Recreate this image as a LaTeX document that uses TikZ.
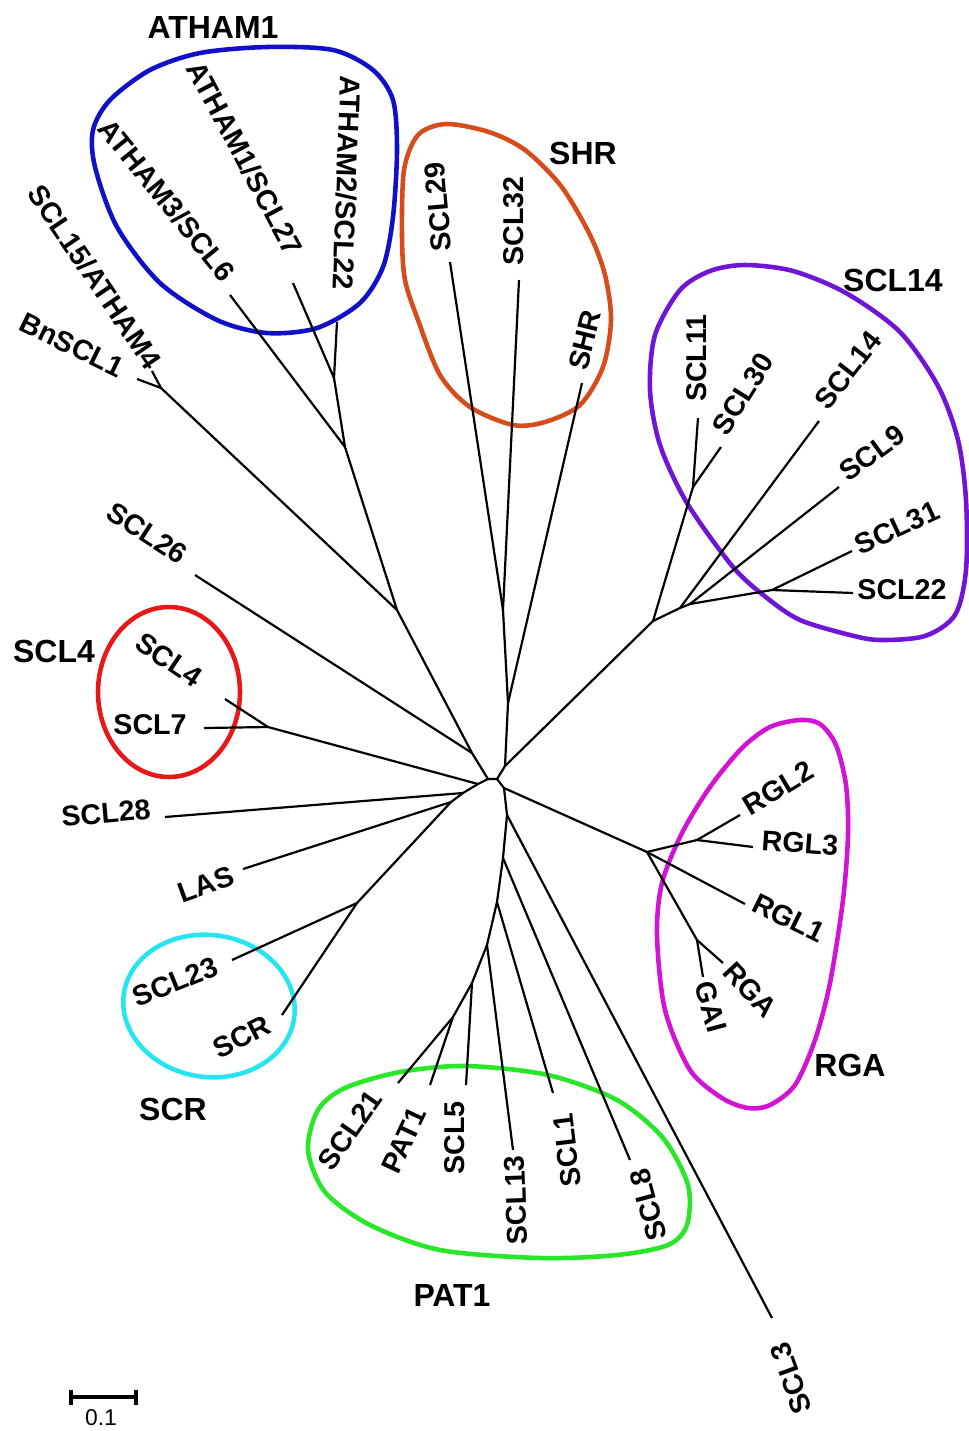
\documentclass[tikz,border=0pt]{standalone}
\usepackage{fontspec}
\setmainfont{Liberation Sans}
\definecolor{athamblue}{RGB}{16,16,200}
\definecolor{shrorange}{RGB}{214,76,26}
\definecolor{sclviolet}{RGB}{112,20,214}
\definecolor{scfourred}{RGB}{230,24,24}
\definecolor{scrcyan}{RGB}{40,228,240}
\definecolor{patgreen}{RGB}{40,230,40}
\definecolor{rgamagenta}{RGB}{210,20,210}
\begin{document}
\begin{tikzpicture}[x=0.02cm, y=-0.02cm,
    leaf/.style={font=\bfseries\fontsize{16.3}{18}\selectfont, inner sep=0pt},
    group/.style={font=\bfseries\fontsize{18.2}{20}\selectfont, inner sep=0pt},
    branch/.style={line width=1.25pt},
    blob/.style={line width=2.6pt}]
    \useasboundingbox (0,0) rectangle (969,1431);

    \draw[blob, athamblue] plot[smooth cycle] coordinates {(93,130) (110,100) (150,70) (200,53) (267,47) (333,50) (373,70) (393,100) (397,150) (393,217) (383,267) (360,303) (317,328) (267,333) (217,320) (160,283) (117,227) (95,167)};
    \draw[blob, shrorange] plot[smooth cycle] coordinates {(402,236) (404,170) (418,135) (446,124) (489,132) (525,150) (561,186) (590,235) (605,275) (611,320) (603,367) (580,405) (545,422) (513,425) (470,407) (440,375) (418,320) (405,280)};
    \draw[blob, sclviolet] plot[smooth cycle] coordinates {(745,265) (793,271) (846,293) (900,332) (938,386) (958,440) (966,500) (966,570) (955,615) (925,636) (880,640) (850,635) (800,620) (767,598) (733,567) (687,503) (660,445) (650,390) (655,335) (680,290) (710,271)};
    \draw[blob, scfourred] (169,692) ellipse [x radius=1.42cm, y radius=1.7cm];
    \draw[blob, scrcyan, rotate around={-8:(209,1006)}] (209,1006) ellipse [x radius=1.72cm, y radius=1.42cm];
    \draw[blob, patgreen] plot[smooth cycle] coordinates {(308,1150) (318,1110) (345,1088) (400,1072) (466,1066) (548,1075) (617,1100) (663,1138) (688,1185) (687,1225) (668,1245) (617,1255) (540,1258) (440,1250) (370,1225) (325,1192)};
    \draw[blob, rgamagenta] plot[smooth cycle] coordinates {(800,720) (820,724) (836,745) (846,785) (848,835) (843,900) (830,983) (815,1040) (795,1085) (770,1105) (748,1108) (722,1098) (690,1070) (665,1010) (657,935) (662,883) (682,833) (710,787) (742,748) (770,727)};

    \coordinate (rl) at (488,779);
    \coordinate (rc) at (497,779);
    \coordinate (rr) at (504,788);
    \coordinate (ra) at (505,766);
    \coordinate (at12) at (334,378);
    \coordinate (at) at (345,447);
    \coordinate (bn) at (161,388);
    \coordinate (at4) at (397,610);
    \coordinate (s26) at (472,753);
    \coordinate (s4) at (268,727);
    \coordinate (j4) at (478,784);
    \coordinate (j28) at (463,793);
    \coordinate (jlas) at (451,802);
    \coordinate (scr) at (357,903);
    \coordinate (sh1) at (503,610);
    \coordinate (sh2) at (508,703);
    \coordinate (k0) at (653,621);
    \coordinate (k1) at (693,487);
    \coordinate (k2) at (680,608);
    \coordinate (k3) at (690,604);
    \coordinate (k4) at (772,590);
    \coordinate (g0) at (647,852);
    \coordinate (g1) at (697,840);
    \coordinate (g2) at (697,940);
    \coordinate (p0) at (507,815);
    \coordinate (p1) at (503,858);
    \coordinate (p2) at (497,902);
    \coordinate (p3) at (487,945);
    \coordinate (p4) at (472,983);
    \coordinate (p5) at (453,1017);

    \coordinate (t6) at (230,295);
    \coordinate (t27) at (293,283);
    \coordinate (t22a) at (337,322);
    \coordinate (t15) at (152,371);
    \coordinate (tbn) at (137,379);
    \coordinate (t26) at (195,575);
    \coordinate (t4) at (225,699);
    \coordinate (t7) at (204,728);
    \coordinate (t28) at (165,817);
    \coordinate (tlas) at (243,869);
    \coordinate (t23) at (232,960);
    \coordinate (tscr) at (282,1015);
    \coordinate (t29) at (450,262);
    \coordinate (t32) at (519,280);
    \coordinate (tshr) at (582,383);
    \coordinate (t11) at (698,418);
    \coordinate (t30) at (721,447);
    \coordinate (t14) at (819,421);
    \coordinate (t9) at (839,487);
    \coordinate (t31) at (852,551);
    \coordinate (t22) at (853,593);
    \coordinate (trgl2) at (740,815);
    \coordinate (trgl3) at (753,847);
    \coordinate (trgl1) at (745,904);
    \coordinate (trga) at (723,963);
    \coordinate (tgai) at (703,977);
    \coordinate (t3) at (772,1318);
    \coordinate (t8) at (630,1160);
    \coordinate (t1) at (553,1093);
    \coordinate (t13) at (513,1150);
    \coordinate (t5) at (466,1085);
    \coordinate (tpat) at (430,1085);
    \coordinate (t21) at (398,1083);

    \draw[branch] (rl) -- (rc) -- (ra);
    \draw[branch] (rc) -- (rr);
    \draw[branch] (rl) -- (s26) -- (at4) -- (at) -- (at12) -- (t27);
    \draw[branch] (at12) -- (t22a);
    \draw[branch] (at) -- (t6);
    \draw[branch] (at4) -- (bn) -- (t15);
    \draw[branch] (bn) -- (tbn);
    \draw[branch] (s26) -- (t26);
    \draw[branch] (rl) -- (j4) -- (j28) -- (jlas) -- (scr) -- (t23);
    \draw[branch] (scr) -- (tscr);
    \draw[branch] (j4) -- (s4) -- (t4);
    \draw[branch] (s4) -- (t7);
    \draw[branch] (j28) -- (t28);
    \draw[branch] (jlas) -- (tlas);
    \draw[branch] (ra) -- (sh2) -- (sh1) -- (t29);
    \draw[branch] (sh1) -- (t32);
    \draw[branch] (sh2) -- (tshr);
    \draw[branch] (ra) -- (k0) -- (k1) -- (t11);
    \draw[branch] (k1) -- (t30);
    \draw[branch] (k0) -- (k2) -- (t14);
    \draw[branch] (k2) -- (k3) -- (t9);
    \draw[branch] (k3) -- (k4) -- (t31);
    \draw[branch] (k4) -- (t22);
    \draw[branch] (rr) -- (g0) -- (g1) -- (trgl2);
    \draw[branch] (g1) -- (trgl3);
    \draw[branch] (g0) -- (trgl1);
    \draw[branch] (g0) -- (g2) -- (trga);
    \draw[branch] (g2) -- (tgai);
    \draw[branch] (rr) -- (p0) -- (t3);
    \draw[branch] (p0) -- (p1) -- (t8);
    \draw[branch] (p1) -- (p2) -- (t1);
    \draw[branch] (p2) -- (p3) -- (t13);
    \draw[branch] (p3) -- (p4) -- (t5);
    \draw[branch] (p4) -- (p5) -- (tpat);
    \draw[branch] (p5) -- (t21);

    \node[leaf, rotate=-51] (l6) at (167,200) {ATHAM3/SCL6};
    \node[leaf, rotate=-62] (l27) at (245,158) {ATHAM1/SCL27};
    \node[leaf, rotate=-92] (l22a) at (347,183) {ATHAM2/SCL22};
    \node[leaf, rotate=-56] (l15) at (95,277) {SCL15/ATHAM4};
    \node[leaf, rotate=-26] (lbn) at (72,345) {BnSCL1};
    \node[leaf, rotate=-33] (l26) at (147,533) {SCL26};
    \node[leaf, rotate=-34] (l4) at (169,660) {SCL4};
    \node[leaf] (l7) at (150,725) {SCL7};
    \node[leaf, rotate=5] (l28) at (106,813) {SCL28};
    \node[leaf, rotate=20] (llas) at (206,884) {LAS};
    \node[leaf, rotate=22] (l23) at (175,982) {SCL23};
    \node[leaf, rotate=27] (lscr) at (242,1037) {SCR};
    \node[leaf, rotate=95] (l29) at (438,207) {SCL29};
    \node[leaf, rotate=90] (l32) at (514,221) {SCL32};
    \node[leaf, rotate=76] (lshr) at (585,340) {SHR};
    \node[leaf, rotate=90] (l11) at (697,358) {SCL11};
    \node[leaf, rotate=58] (l30) at (743,394) {SCL30};
    \node[leaf, rotate=52] (l14) at (848,370) {SCL14};
    \node[leaf, rotate=36] (l9) at (872,453) {SCL9};
    \node[leaf, rotate=25] (l31) at (897,528) {SCL31};
    \node[leaf] (l22) at (902,590) {SCL22};
    \node[leaf, rotate=31] (lrgl2) at (778,788) {RGL2};
    \node[leaf, rotate=-4] (lrgl3) at (800,843) {RGL3};
    \node[leaf, rotate=-26] (lrgl1) at (789,918) {RGL1};
    \node[leaf, rotate=-47] (lrga) at (750,990) {RGA};
    \node[leaf, rotate=-75] (lgai) at (711,1007) {GAI};
    \node[leaf, rotate=110] (l3) at (791,1378) {SCL3};
    \node[leaf, rotate=105] (l8) at (648,1205) {SCL8};
    \node[leaf, rotate=97] (l1) at (567,1150) {SCL1};
    \node[leaf, rotate=92] (l13) at (516,1200) {SCL13};
    \node[leaf, rotate=90] (l5) at (455,1138) {SCL5};
    \node[leaf, rotate=65] (lpat) at (404,1140) {PAT1};
    \node[leaf, rotate=55] (l21) at (350,1130) {SCL21};

    \node[group] (gatham) at (213,27) {ATHAM1};
    \node[group] (gshr) at (583,153) {SHR};
    \node[group] (gscl14) at (893,280) {SCL14};
    \node[group] (gscl4) at (54,651) {SCL4};
    \node[group] (gscr) at (173,1109) {SCR};
    \node[group] (gpat) at (452,1295) {PAT1};
    \node[group] (grga) at (850,1065) {RGA};

    \coordinate (sb1) at (71,1397);
    \coordinate (sb2) at (136,1397);
    \draw[line width=1.8pt] (sb1) -- (sb2);
    \draw[line width=1.8pt] ([yshift=-0.15cm]sb1) -- ([yshift=0.15cm]sb1);
    \draw[line width=1.8pt] ([yshift=-0.15cm]sb2) -- ([yshift=0.15cm]sb2);
    \node[font=\fontsize{13}{15}\selectfont, inner sep=0pt] (sbl) at (101,1418) {0.1};
\end{tikzpicture}
\end{document}
